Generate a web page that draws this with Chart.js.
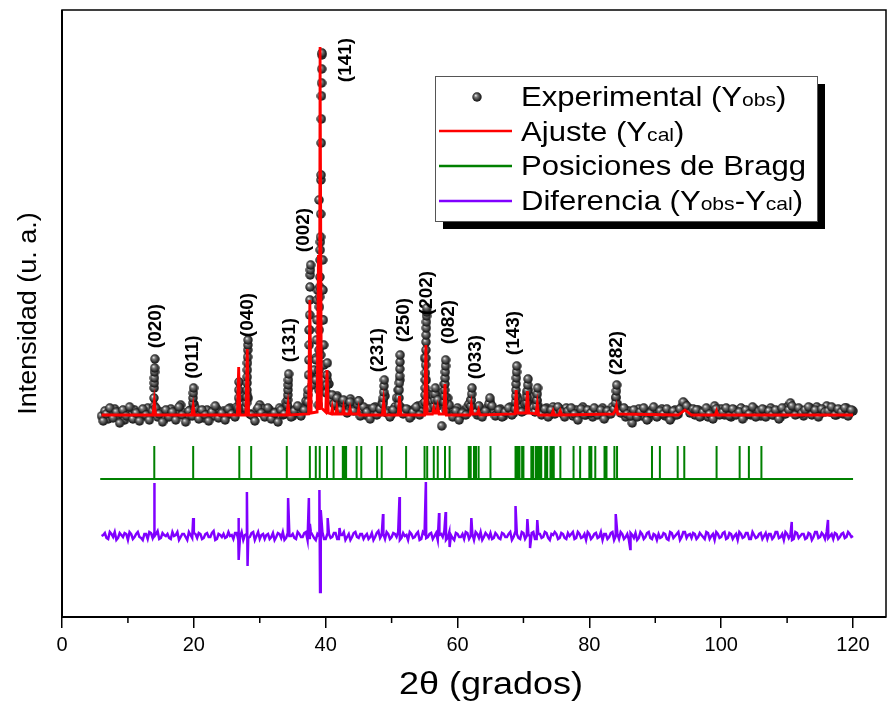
<!DOCTYPE html>
<html>
<head>
<meta charset="utf-8">
<title>Refinamiento Rietveld</title>
<script src="https://cdn.jsdelivr.net/npm/chart.js@4.4.1/dist/chart.umd.min.js"></script>
<style>
  html, body { margin: 0; padding: 0; background: #fff; }
</style>
</head>
<body>
<canvas id="xrd" width="888" height="706"></canvas>
<script>
const FONT = '"Liberation Sans", Arial, Helvetica, sans-serif'

// measured pattern, read every 0.25 deg from 6 to 120 (2θ):
// obsCounts on the whole/half degrees, obsCountsMid on the quarters in between
const gridStart = 6
const gridStep = 0.5
const obsCounts = [
  204, 209, 201, 207, 211, 203, 206, 200, 208, 205,
  210, 202, 207, 204, 212, 206, 214, 203, 208, 201,
  206, 211, 204, 209, 215, 207, 203, 210, 216, 205,
  208, 202, 210, 206, 204, 211, 203, 209, 205, 212,
  207, 213, 218, 210, 226, 206, 204, 209, 215, 211,
  206, 210, 203, 208, 212, 205, 218, 209, 204, 211,
  207, 212, 219, 290, 235, 262, 420, 300, 228, 236,
  222, 214, 220, 211, 218, 209, 215, 212, 219, 208,
  205, 211, 207, 213, 208, 216, 224, 209, 206, 213,
  230, 212, 207, 210, 204, 211, 214, 209, 262, 226,
  218, 224, 214, 219, 236, 222, 210, 206, 212, 204,
  209, 213, 220, 211, 205, 210, 207, 212, 218, 209,
  206, 211, 204, 209, 213, 207, 224, 214, 209, 226,
  221, 213, 219, 210, 207, 212, 205, 213, 209, 211,
  206, 212, 208, 204, 210, 207, 213, 205, 209, 203,
  210, 206, 212, 204, 208, 213, 222, 211, 207, 203,
  209, 197, 206, 211, 204, 208, 202, 210, 207, 205,
  211, 204, 208, 203, 210, 206, 213, 216, 212, 209,
  205, 210, 204, 208, 203, 209, 214, 207, 211, 205,
  208, 203, 210, 206, 212, 204, 209, 205, 211, 207,
  204, 210, 206, 212, 205, 209, 203, 208, 213, 217,
  211, 206, 210, 204, 209, 212, 207, 213, 206, 210,
  214, 208, 211, 205, 210, 206, 212, 207, 209
]
const obsCountsMid = [
  199, 206, 212, 202, 208, 197, 210, 204, 213, 201,
  207, 199, 211, 205, 200, 209, 212, 206, 198, 210,
  203, 208, 200, 213, 205, 198, 209, 204, 212, 201,
  210, 205, 199, 208, 214, 202, 207, 200, 211, 206,
  203, 210, 216, 212, 222, 205, 199, 212, 207, 203,
  212, 201, 207, 198, 210, 206, 213, 203, 209, 214,
  204, 210, 225, 245, 250, 330, 265, 232, 240, 220,
  216, 224, 210, 217, 207, 221, 209, 216, 204, 213,
  208, 201, 212, 205, 211, 219, 207, 203, 210, 222,
  240, 206, 211, 202, 208, 213, 205, 216, 240, 212,
  225, 216, 220, 228, 210, 215, 203, 209, 200, 207,
  205, 216, 212, 208, 214, 203, 209, 216, 214, 204,
  210, 203, 208, 212, 205, 211, 220, 208, 216, 230,
  223, 208, 214, 205, 211, 203, 210, 206, 213, 208,
  203, 209, 212, 206, 200, 211, 205, 210, 207, 212,
  205, 210, 201, 209, 206, 211, 216, 207, 212, 206,
  204, 210, 203, 208, 212, 200, 207, 213, 203, 209,
  206, 211, 200, 209, 205, 211, 218, 214, 207, 211,
  210, 203, 208, 212, 206, 201, 211, 205, 208, 212,
  204, 211, 205, 208, 201, 210, 206, 213, 203, 209,
  211, 203, 209, 205, 210, 201, 212, 206, 210, 214,
  205, 212, 207, 210, 213, 205, 210, 203, 211, 208,
  209, 213, 205, 211, 208, 212, 204, 210
]

// extra measured points climbing the reflections [2θ, counts]
const obsPeakPoints = [
  [13.95, 222], [13.98, 232], [14.0, 237], [14.02, 242], [14.04, 248], [14.06, 252], [14.08, 261],
  [19.85, 217], [19.88, 222], [19.92, 227], [19.95, 232],
  [26.75, 212], [26.8, 222], [26.83, 230], [26.86, 238],
  [28.0, 217], [28.03, 223], [28.06, 230], [28.08, 237], [28.1, 243], [28.12, 250],
  [28.14, 257], [28.16, 263], [28.18, 270], [28.2, 275], [28.22, 280],
  [34.2, 215], [34.23, 220], [34.26, 225], [34.29, 230], [34.32, 235], [34.35, 240], [34.38, 246],
  [37.3, 218], [37.35, 230], [37.4, 245], [37.45, 260], [37.5, 275], [37.55, 290],
  [37.58, 305], [37.6, 320], [37.62, 333], [37.65, 345], [37.68, 350], [37.72, 355],
  [38.5, 240], [38.55, 260], [38.6, 280], [38.65, 300], [38.7, 320],
  [38.9, 215], [38.95, 230], [38.98, 250], [39.0, 270], [39.02, 290], [39.05, 313],
  [39.08, 323], [39.1, 333], [39.12, 343], [39.15, 360], [39.17, 370], [39.2, 378],
  [39.22, 383], [39.25, 406], [39.27, 440], [39.3, 445], [39.32, 477], [39.34, 501],
  [39.36, 524], [39.38, 537], [39.4, 551], [39.42, 565], [39.44, 567],
  [39.55, 360], [39.6, 330], [39.65, 300], [39.7, 275], [39.75, 255], [39.8, 240],
  [40.1, 227], [40.15, 235], [40.2, 245], [40.25, 257],
  [41.0, 225], [41.7, 222], [42.7, 220], [43.7, 218], [45.0, 219],
  [48.7, 216], [48.75, 222], [48.8, 228], [48.85, 234], [48.9, 240],
  [51.1, 215], [51.13, 222], [51.16, 230], [51.19, 237], [51.22, 244], [51.25, 251], [51.28, 258], [51.3, 265],
  [55.05, 218], [55.08, 225], [55.1, 232], [55.12, 240], [55.14, 247], [55.16, 255], [55.18, 262],
  [55.2, 270], [55.22, 278], [55.24, 285], [55.26, 292], [55.28, 298], [55.3, 304], [55.32, 308], [55.34, 312],
  [56.5, 214], [56.55, 220], [56.6, 226], [56.65, 232], [57.0, 220], [57.6, 194],
  [58.0, 218], [58.03, 224], [58.06, 230], [58.09, 236], [58.12, 242], [58.15, 248], [58.18, 254], [58.2, 260],
  [62.05, 214], [62.1, 220], [62.15, 226], [62.2, 232],
  [64.9, 222],
  [68.8, 218], [68.83, 224], [68.86, 230], [68.89, 236], [68.92, 242], [68.95, 248], [68.98, 254],
  [70.5, 217], [70.55, 223], [70.6, 229], [70.65, 235], [70.7, 241],
  [72.0, 214], [72.05, 220], [72.1, 226], [72.15, 232],
  [84.0, 217], [84.05, 223], [84.1, 229], [84.15, 235]
]

// calculated profile (Ycal) [2θ, counts]
const calcPoints = [
  [6, 205], [13.8, 205], [14.0, 218], [14.2, 205], [19.7, 205], [19.9, 214], [20.1, 205],
  [26.6, 205], [26.8, 253], [27.0, 205], [27.9, 205], [28.1, 271], [28.3, 205],
  [34.1, 205], [34.3, 216], [34.5, 205], [37.4, 206], [37.6, 320], [37.8, 207],
  [38.7, 208], [38.9, 365], [39.05, 210], [39.15, 573], [39.35, 212],
  [40.0, 208], [40.2, 250], [40.4, 207], [40.85, 206], [41.0, 212], [41.15, 206],
  [41.55, 206], [41.7, 212], [41.85, 206], [42.55, 206], [42.7, 212], [42.85, 206],
  [43.55, 206], [43.7, 211], [43.85, 206], [44.85, 206], [45.0, 211], [45.15, 205],
  [48.6, 205], [48.8, 218], [49.0, 205], [51.0, 205], [51.2, 224], [51.4, 205],
  [55.0, 205], [55.2, 275], [55.4, 206], [56.2, 206], [56.4, 212], [56.6, 207],
  [56.85, 207], [57.0, 213], [57.2, 206], [57.9, 206], [58.1, 236], [58.3, 205],
  [61.9, 205], [62.1, 215], [62.3, 206], [63.0, 206], [63.2, 210], [63.4, 205],
  [68.7, 206], [68.9, 230], [69.1, 207], [70.4, 207], [70.6, 229], [70.8, 207],
  [71.9, 206], [72.1, 216], [72.3, 205], [74.3, 205], [74.5, 209], [74.7, 205],
  [75.4, 205], [75.6, 209], [75.8, 205], [83.6, 206], [83.9, 209], [84.1, 214], [84.3, 206],
  [93.5, 205], [94.5, 210], [95.5, 205], [99.1, 205], [99.3, 209], [99.5, 205], [120, 205]
]

// Bragg reflection positions (2θ)
const braggAngle = [
  14.0, 19.9, 26.9, 28.7, 34.1, 37.6, 38.5, 39.1, 40.2, 41.2, 42.6, 42.9, 43.1, 44.7, 45.4,
  47.8, 48.5, 52.2, 55.0, 55.4, 56.4, 57.0, 58.1, 58.8, 61.7, 62.0, 62.5, 62.8, 63.2,
  65.0, 68.8, 69.1, 69.4, 69.8, 70.0, 71.2, 71.5, 71.9, 72.2, 72.5, 72.7, 73.3, 73.6,
  74.1, 74.3, 74.6, 75.6, 77.6, 78.6, 80.0, 80.3, 80.9, 82.3, 82.6, 83.8, 84.2,
  89.5, 90.7, 93.4, 94.4, 99.3, 102.8, 104.2, 106.1
]
const braggBase = 141
const braggTop = 174

// difference Yobs - Ycal (offset), same grid as the measured pattern
const diffCounts = [
  84, 87, 81, 86, 88, 82, 85, 87, 80, 86,
  83, 88, 82, 86, 81, 87, 84, 89, 82, 85,
  86, 81, 84, 88, 83, 86, 80, 85, 87, 82,
  86, 82, 87, 83, 89, 81, 85, 86, 83, 84,
  81, 87, 83, 80, 86, 83, 88, 84, 81, 86,
  85, 81, 87, 83, 86, 88, 82, 84, 86, 81,
  86, 83, 88, 82, 85, 80, 84, 88, 81, 86,
  83, 87, 81, 85, 80, 86, 83, 88, 82, 86,
  84, 81, 87, 83, 89, 85, 81, 86, 83, 86,
  88, 82, 84, 80, 86, 83, 88, 81, 86, 83,
  87, 84, 80, 86, 89, 82, 85, 80, 86, 83,
  81, 87, 84, 80, 86, 88, 83, 85, 87, 82,
  85, 81, 86, 83, 88, 83, 86, 81, 87, 84,
  83, 88, 81, 86, 83, 87, 80, 85, 86, 82,
  86, 81, 84, 88, 82, 86, 83, 80, 86, 83,
  87, 83, 80, 86, 83, 88, 84, 81, 86, 83,
  80, 85, 87, 82, 86, 83, 88, 81, 85, 86,
  83, 86, 80, 87, 84, 88, 83, 88, 85, 82,
  86, 83, 85, 81, 87, 84, 80, 86, 83, 88,
  82, 86, 84, 80, 86, 83, 87, 81, 85, 83,
  87, 84, 81, 86, 83, 88, 83, 80, 86, 85,
  81, 87, 84, 86, 82, 86, 83, 88, 83, 85,
  88, 84, 81, 86, 83, 87, 83, 86, 84
]
const diffCountsMid = [
  85, 82, 88, 83, 80, 87, 83, 86, 88, 81,
  86, 83, 80, 86, 88, 82, 86, 81, 87, 84,
  82, 88, 85, 80, 86, 83, 88, 82, 86, 87,
  81, 86, 83, 87, 80, 86, 83, 82, 88, 85,
  87, 80, 88, 85, 82, 87, 80, 88, 85, 81,
  86, 83, 80, 87, 82, 80, 87, 84, 82, 88,
  83, 87, 80, 88, 82, 86, 90, 81, 86, 82,
  87, 81, 85, 88, 83, 80, 87, 83, 86, 81,
  86, 83, 80, 87, 82, 86, 88, 81, 87, 83,
  80, 87, 85, 88, 82, 86, 80, 88, 82, 86,
  81, 87, 85, 83, 80, 88, 82, 87, 83, 86,
  88, 81, 86, 88, 82, 80, 87, 82, 81, 87,
  82, 87, 83, 86, 80, 88, 82, 88, 81, 86,
  87, 81, 86, 82, 88, 82, 86, 88, 81, 87,
  82, 87, 86, 81, 88, 82, 86, 88, 81, 86,
  82, 88, 86, 81, 87, 80, 86, 88, 81, 86,
  87, 82, 80, 88, 81, 87, 82, 86, 80, 82,
  87, 81, 88, 82, 86, 80, 88, 82, 86, 87,
  81, 87, 83, 88, 81, 86, 88, 82, 87, 81,
  87, 81, 86, 88, 82, 87, 81, 88, 82, 86,
  81, 87, 86, 81, 88, 82, 86, 88, 82, 80,
  88, 82, 86, 81, 87, 80, 88, 82, 87, 81,
  82, 86, 87, 81, 86, 82, 88, 83
]
const diffSpikePoints = [
  [13.95, 86], [14.0, 137], [14.05, 84], [19.9, 102], [26.75, 102], [26.85, 60],
  [28.05, 128], [28.15, 54], [34.3, 122], [37.45, 122], [37.6, 96],
  [39.05, 130], [39.15, 28], [39.25, 110], [40.3, 102], [42.1, 92],
  [48.7, 106], [51.2, 123], [55.2, 138], [57.2, 107], [58.2, 108], [58.8, 73],
  [62.1, 102], [68.8, 114], [70.6, 101], [71.0, 72], [72.1, 100], [84.0, 106],
  [86.2, 71], [110.7, 98], [116.2, 100]
]

// Miller indices written above the reflections
const hklText = ["(020)", "(011)", "(040)", "(131)", "(002)", "(141)", "(231)", "(250)", "(202)", "(082)", "(033)", "(143)", "(282)"]
const hklAngle = [14.2, 19.85, 28.2, 34.6, 36.7, 43.0, 47.9, 51.8, 55.4, 58.6, 62.7, 68.6, 84.2]
const hklCounts = [294, 263, 305, 280, 390, 560, 270, 300, 327, 298, 263, 287, 267]

const xMajorTicks = [0, 20, 40, 60, 80, 100, 120]
const xMinorTicks = [10, 30, 50, 70, 90, 110]

// shaded ball used for the measured points
const ball = document.createElement("canvas")
ball.width = 10
ball.height = 10
const bctx = ball.getContext("2d")
const grad = bctx.createRadialGradient(3.6, 3.4, 0.3, 5, 5, 5)
grad.addColorStop(0, "#e0e0e0")
grad.addColorStop(0.3, "#777")
grad.addColorStop(0.75, "#2a2a2a")
grad.addColorStop(1, "#111")
bctx.fillStyle = grad
bctx.beginPath()
bctx.arc(5, 5, 4.7, 0, Math.PI * 2)
bctx.fill()

const gridPoints = (whole, mid) => {
  const pts = whole.map((c, i) => ({ x: gridStart + i * gridStep, y: c }))
  mid.forEach((c, i) => pts.push({ x: gridStart + gridStep / 2 + i * gridStep, y: c }))
  return pts
}

const obsData = gridPoints(obsCounts, obsCountsMid)
obsPeakPoints.forEach(p => obsData.push({ x: p[0], y: p[1] }))

const calcData = calcPoints.map(p => ({ x: p[0], y: p[1] }))

const braggData = [{ x: 5.8, y: braggBase }]
braggAngle.forEach(a => {
  braggData.push({ x: a, y: braggBase }, { x: a, y: braggTop }, { x: a, y: braggBase })
})
braggData.push({ x: 120, y: braggBase })

const diffData = gridPoints(diffCounts, diffCountsMid)
diffSpikePoints.forEach(p => diffData.push({ x: p[0], y: p[1] }))
diffData.sort((a, b) => a.x - b.x)

// text stretched sideways like the original export
function stretchedText(ctx, parts, x, y, sx) {
  ctx.save()
  ctx.translate(x, y)
  ctx.scale(sx, 1)
  let cx = 0
  parts.forEach(([txt, size]) => {
    ctx.font = size + "px " + FONT
    ctx.fillText(txt, cx, 0)
    cx += ctx.measureText(txt).width
  })
  ctx.restore()
}

const framePlugin = {
  id: "frame",
  afterDraw(chart) {
    const { ctx, chartArea: a, scales } = chart
    ctx.save()
    ctx.strokeStyle = "#000"
    ctx.lineWidth = 1.5
    ctx.strokeRect(a.left, a.top, a.right - a.left, a.bottom - a.top)
    ctx.lineWidth = 2
    ctx.beginPath()
    ctx.moveTo(a.left - 1, a.bottom)
    ctx.lineTo(a.right, a.bottom)
    ctx.moveTo(a.left, a.bottom)
    ctx.lineTo(a.left, a.top)
    ctx.stroke()
    ctx.lineWidth = 1.5
    xMinorTicks.forEach(v => {
      const x = scales.x.getPixelForValue(v)
      ctx.beginPath()
      ctx.moveTo(x, a.bottom)
      ctx.lineTo(x, a.bottom + 6)
      ctx.stroke()
    })

    // axis titles
    ctx.fillStyle = "#000"
    ctx.textAlign = "left"
    ctx.textBaseline = "alphabetic"
    ctx.font = "31px " + FONT
    const xt = "2θ (grados)"
    const xw = ctx.measureText(xt).width * 1.16
    stretchedText(ctx, [[xt, 31]], 491 - xw / 2, 694, 1.16)

    ctx.save()
    ctx.translate(36, (a.top + a.bottom) / 2)
    ctx.rotate(-Math.PI / 2)
    ctx.font = "25px " + FONT
    const yt = "Intensidad (u. a.)"
    const yw = ctx.measureText(yt).width * 1.08
    stretchedText(ctx, [[yt, 25]], -yw / 2, 0, 1.08)
    ctx.restore()
    ctx.restore()
  },
}

const hklPlugin = {
  id: "hkl",
  afterDatasetsDraw(chart) {
    const { ctx, scales } = chart
    ctx.save()
    ctx.fillStyle = "#000"
    ctx.font = "bold 19px " + FONT
    ctx.textAlign = "center"
    ctx.textBaseline = "middle"
    hklText.forEach((t, i) => {
      ctx.save()
      ctx.translate(scales.x.getPixelForValue(hklAngle[i]), scales.y.getPixelForValue(hklCounts[i]))
      ctx.rotate(-Math.PI / 2)
      ctx.fillText(t, 0, 0)
      ctx.restore()
    })
    ctx.restore()
  },
}

const legendPlugin = {
  id: "richLegend",
  afterDraw(chart) {
    const ctx = chart.ctx
    const box = { x: 435, y: 76, w: 382, h: 145 }
    ctx.save()
    ctx.fillStyle = "#000"
    ctx.fillRect(box.x + 8, box.y + 8, box.w, box.h)
    ctx.fillStyle = "#fff"
    ctx.fillRect(box.x, box.y, box.w, box.h)
    ctx.strokeStyle = "#555"
    ctx.lineWidth = 1
    ctx.strokeRect(box.x + 0.5, box.y + 0.5, box.w, box.h)

    ctx.drawImage(ball, 477 - 5, 97 - 5)
    const ds = chart.data.datasets
    const lines = [[131, ds[1].borderColor], [166, ds[2].borderColor], [201, ds[3].borderColor]]
    lines.forEach(([y, c]) => {
      ctx.strokeStyle = c
      ctx.lineWidth = 2.5
      ctx.beginPath()
      ctx.moveTo(439, y)
      ctx.lineTo(512, y)
      ctx.stroke()
    })

    ctx.fillStyle = "#000"
    ctx.textBaseline = "alphabetic"
    ctx.textAlign = "left"
    const sx = 1.11
    stretchedText(ctx, [["Experimental (Y", 28], ["obs", 19], [")", 28]], 521, 106, sx)
    stretchedText(ctx, [["Ajuste (Y", 28], ["cal", 19], [")", 28]], 521, 141, sx)
    stretchedText(ctx, [["Posiciones de Bragg", 28]], 521, 175, sx)
    stretchedText(ctx, [["Diferencia (Y", 28], ["obs", 19], ["-Y", 28], ["cal", 19], [")", 28]], 521, 210, sx)
    ctx.restore()
  },
}

new Chart(document.getElementById("xrd"), {
  type: "line",
  data: {
    datasets: [
      {
        label: "Experimental (Yobs)",
        data: obsData,
        showLine: false,
        pointStyle: ball,
        pointRadius: 4.5,
        pointHoverRadius: 4.5,
        order: 2,
      },
      {
        label: "Ajuste (Ycal)",
        data: calcData,
        borderColor: "#ff0000",
        borderWidth: 2.8,
        pointRadius: 0,
        tension: 0,
        order: 0,
      },
      {
        label: "Posiciones de Bragg",
        data: braggData,
        borderColor: "#008000",
        borderWidth: 2,
        pointRadius: 0,
        tension: 0,
        order: 1,
      },
      {
        label: "Diferencia (Yobs-Ycal)",
        data: diffData,
        borderColor: "#8000ff",
        borderWidth: 2.5,
        pointRadius: 0,
        tension: 0,
        order: 1,
      },
    ],
  },
  options: {
    responsive: false,
    animation: false,
    layout: { autoPadding: false, padding: { top: 10, right: 2, left: 62, bottom: 44 } },
    plugins: { legend: { display: false }, tooltip: { enabled: false } },
    scales: {
      x: {
        type: "linear",
        min: 0,
        max: 125,
        afterBuildTicks: axis => {
          axis.ticks = xMajorTicks.map(v => ({ value: v }))
        },
        ticks: { color: "#000", font: { family: FONT, size: 20 }, padding: 5, maxRotation: 0 },
        grid: { drawOnChartArea: false, drawTicks: true, tickLength: 11, color: "#000", lineWidth: 1.5 },
        border: { display: false },
        title: { display: false },
      },
      y: {
        min: 3,
        max: 610,
        ticks: { display: false },
        grid: { display: false, drawTicks: false },
        border: { display: false },
        title: { display: false },
      },
    },
  },
  plugins: [framePlugin, hklPlugin, legendPlugin],
})
</script>
</body>
</html>
